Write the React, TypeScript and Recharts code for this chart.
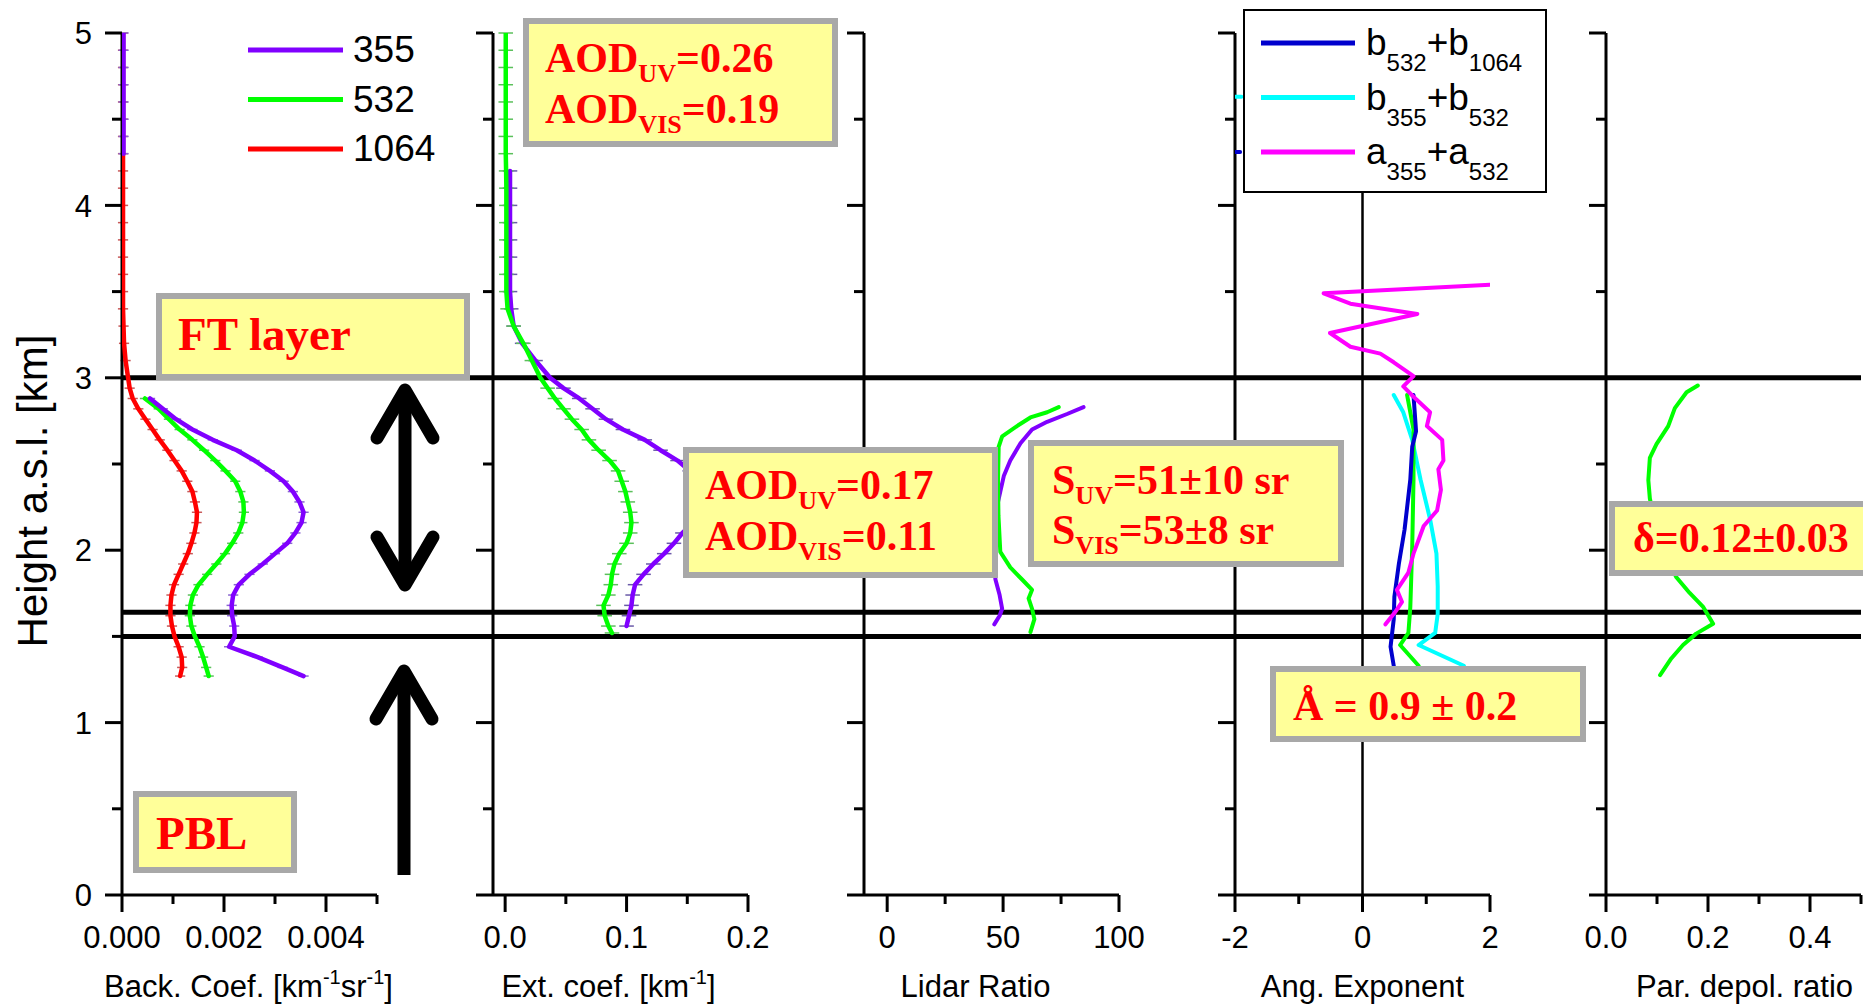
import React from "react";
import { ScatterChart, Scatter, XAxis, YAxis, ReferenceLine, ErrorBar } from "recharts";

// ---------- profile data, heights in km a.s.l. ----------

// backscatter coefficient [km-1 sr-1]
const bscHeights = [
  5.0, 4.9, 4.8, 4.7, 4.6, 4.5, 4.4, 4.3, 4.2, 4.1, 4.0, 3.9, 3.8, 3.7, 3.6, 3.5, 3.4, 3.3, 3.2, 3.1,
  3.0, 2.94, 2.88, 2.82, 2.76, 2.7, 2.64, 2.58, 2.52, 2.46, 2.4, 2.34, 2.28, 2.22, 2.16, 2.1, 2.04,
  1.98, 1.92, 1.86, 1.8, 1.74, 1.68, 1.62, 1.56, 1.5, 1.44, 1.38, 1.32, 1.27,
];
const bsc355 = [
  0.00003, 0.00003, 0.00003, 0.00003, 0.00003, 0.00003, 0.00003, 0.00003,
  null, null, null, null, null, null, null, null, null, null, null, null,
  null, null, 0.00055, 0.0008, 0.00106, 0.00138, 0.00178, 0.00225, 0.0026, 0.0029, 0.00317, 0.00335,
  0.00348, 0.00356, 0.00352, 0.0034, 0.00324,
  0.003, 0.00276, 0.0025, 0.00229, 0.00218, 0.00215, 0.00216, 0.0022, 0.00221, 0.0021, 0.00266, 0.00315, 0.00356,
];
const bsc532 = [
  null, null, null, null, null, null, null, null, null, null,
  null, null, null, null, null, null, null, null, null, null,
  null, null, 0.00045, 0.00072, 0.00092, 0.00113, 0.00138, 0.00161, 0.00183, 0.00203, 0.00222, 0.00232,
  0.00238, 0.00239, 0.00236, 0.00228, 0.00216,
  0.00202, 0.00185, 0.00167, 0.0015, 0.00139, 0.00134, 0.00133, 0.00136, 0.00143, 0.00152, 0.00159, 0.00165, 0.0017,
];
const bsc1064 = [
  0.00002, 0.00002, 0.00002, 0.00002, 0.00002, 0.00002, 0.00002, 0.00002, 0.00002, 0.00002,
  0.00002, 0.00002, 0.00002, 0.00002, 0.00002, 0.00002, 0.00002, 0.00003, 0.00004, 0.00007,
  0.00012, 0.00015, 0.00021, 0.00032, 0.00046, 0.0006, 0.00074, 0.00089, 0.00103, 0.00117, 0.00128, 0.00138,
  0.00143, 0.00147, 0.00146, 0.00142, 0.00136,
  0.00129, 0.0012, 0.00111, 0.00102, 0.00097, 0.00095, 0.00095, 0.00098, 0.00103, 0.00111, 0.00117, 0.00118, 0.00114,
];
const bscErr = 0.0001;

// extinction coefficient [km-1]
const extHeights = [
  5.0, 4.9, 4.8, 4.7, 4.6, 4.5, 4.4, 4.3, 4.2, 4.1, 4.0, 3.9, 3.8, 3.7, 3.6, 3.5, 3.4, 3.3, 3.2, 3.1,
  3.0, 2.94, 2.88, 2.82, 2.76, 2.7, 2.64, 2.58, 2.52, 2.46, 2.4, 2.34, 2.28, 2.22, 2.16, 2.1, 2.04,
  1.98, 1.92, 1.86, 1.8, 1.74, 1.68, 1.62, 1.56, 1.52,
];
const ext355 = [
  null, null, null, null, null, null, null, null,
  0.004, 0.004, 0.004, 0.004, 0.004, 0.004, 0.004, 0.004, 0.005, 0.007, 0.014, 0.025,
  0.037, 0.048, 0.061, 0.072, 0.083, 0.097, 0.115, 0.128, 0.142, 0.152, 0.16, 0.165, 0.167, 0.163, 0.155, 0.146, 0.139,
  0.131, 0.122, 0.114, 0.107, 0.105, 0.104, 0.102, 0.1, null,
];
const ext532 = [
  0.0005, 0.0005, 0.0005, 0.0005, 0.0005, 0.0005, 0.0005, 0.0005, 0.0008, 0.001,
  0.001, 0.001, 0.001, 0.001, 0.001, 0.001, 0.002, 0.007, 0.015, 0.022,
  0.029, 0.035, 0.041, 0.048, 0.055, 0.063, 0.069, 0.077, 0.086, 0.093, 0.096, 0.099, 0.101, 0.103, 0.104, 0.103, 0.1,
  0.094, 0.09, 0.088, 0.087, 0.085, 0.081, 0.082, 0.085, 0.088,
];
const extErr = 0.006;

// lidar ratio [sr]
const lr355Heights = [2.83, 2.79, 2.745, 2.7, 2.62, 2.52, 2.43, 2.34, 2.2, 2.0, 1.83, 1.74, 1.66, 1.62, 1.57];
const lr355 = [84.7, 77.6, 69, 62.5, 57.5, 53.1, 50.3, 48.8, 46.5, 45.5, 46.7, 48.5, 49.6, 48.5, 46.2];
const lr532Heights = [2.83, 2.8, 2.77, 2.72, 2.66, 2.6, 2.4, 2.2, 1.99, 1.9, 1.83, 1.77, 1.72, 1.66, 1.6, 1.525];
const lr532 = [74, 69, 61.8, 56, 49.6, 48.1, 47.8, 48, 48.8, 53.1, 58.2, 62.5, 61, 62.5, 63.5, 61.8];

// Angstrom exponents
const aeAlphaHeights = [
  3.54, 3.49, 3.43, 3.37, 3.26, 3.18, 3.14, 3.09, 3.01, 2.95, 2.89, 2.8, 2.72,
  2.64, 2.52, 2.47, 2.35, 2.23, 2.14, 1.98, 1.87, 1.77, 1.7, 1.64, 1.57,
];
const aeAlpha355_532 = [
  2.0, -0.61, -0.19, 0.86, -0.51, -0.19, 0.28, 0.49, 0.8, 0.64, 0.8, 1.06, 1.01,
  1.25, 1.27, 1.19, 1.23, 1.17, 0.96, 0.8, 0.72, 0.54, 0.62, 0.51, 0.36,
];
const aeB532Heights = [4.31, 4.31, null, 2.9, 2.69, 2.6, 2.41, 2.12, 1.92, 1.73, 1.6, 1.44, 1.33];
const aeBeta532_1064 = [-2.0, -1.92, null, 0.8, 0.84, 0.78, 0.75, 0.66, 0.57, 0.5, 0.49, 0.44, 0.49];
const aeB355Heights = [4.63, 4.63, null, 2.9, 2.8, 2.64, 2.41, 2.18, 1.98, 1.79, 1.63, 1.52, 1.45, 1.33];
const aeBeta355_532 = [-2.0, -1.9, null, 0.49, 0.64, 0.78, 0.91, 1.06, 1.16, 1.18, 1.18, 1.14, 0.88, 1.59];
const aeGreenHeights = [2.9, 2.7, 2.41, 2.02, 1.67, 1.52, 1.45, 1.33];
const aeGreen = [0.7, 0.8, 0.8, 0.78, 0.75, 0.72, 0.59, 0.88];

// particle depolarization ratio
const depHeights = [
  2.955, 2.916, 2.824, 2.72, 2.615, 2.536, 2.406, 2.3, 2.1, 1.95, 1.843, 1.752, 1.673, 1.573, 1.516, 1.45, 1.372, 1.275,
];
const depol532 = [
  0.18, 0.158, 0.135, 0.122, 0.099, 0.086, 0.083, 0.086, 0.1, 0.12, 0.138, 0.164, 0.19, 0.21, 0.177, 0.151, 0.128, 0.106,
];

// layer boundaries (FT base, PBL top band)
const layerLines = [3.0, 1.64, 1.5];
const heightTicks = [0, 0.5, 1, 1.5, 2, 2.5, 3, 3.5, 4, 4.5, 5];

// ---------- styling / layout ----------
const SANS = '"Liberation Sans", Arial, sans-serif';
const SERIF = '"Liberation Serif", "Times New Roman", serif';
const C355 = "#8000FF";
const C532 = "#00FF00";
const C1064 = "#FF0000";
const CBLUE = "#0000CD";
const CCYAN = "#00FFFF";
const CMAG = "#FF00FF";
const BOX_FILL = "#FFFF99";
const BOX_EDGE = "#A8A8A8";

const CHART_H = 1007;
const PLOT_TOP = 33;
const X_AXIS_H = 112;
const PLOT_W = 255;
const FIRST_LEFT = 122;
const PANEL_STEP = 371;
const GAP = PANEL_STEP - PLOT_W;
const Y_W = 40;
const AXIS = { stroke: "#000", strokeWidth: 3 };

type Series = {
  key: string;
  heights: (number | null)[];
  values: (number | null)[];
  color: string;
  width: number;
  err?: number;
  errColor?: string;
};
type Run = [string, boolean?];
type PanelDef = {
  id: string;
  domain: [number, number];
  ticks: number[];
  majors: number[];
  digits: number;
  title: Run[];
  titleDx: number;
  zeroLine?: boolean;
  series: Series[];
};

const panels: PanelDef[] = [
  {
    id: "bsc",
    domain: [0, 0.005],
    ticks: [0, 0.001, 0.002, 0.003, 0.004, 0.005],
    majors: [0, 0.002, 0.004],
    digits: 3,
    title: [["Back. Coef. [km"], ["-1", true], ["sr"], ["-1", true], ["]"]],
    titleDx: -1,
    series: [
      { key: "1064", heights: bscHeights, values: bsc1064, color: C1064, width: 4.5, err: bscErr, errColor: "#C85A5A" },
      { key: "532", heights: bscHeights, values: bsc532, color: C532, width: 4.5, err: bscErr, errColor: "#5CC05C" },
      { key: "355", heights: bscHeights, values: bsc355, color: C355, width: 4.5, err: bscErr, errColor: "#8A66D0" },
    ],
  },
  {
    id: "ext",
    domain: [-0.01, 0.2],
    ticks: [0, 0.05, 0.1, 0.15, 0.2],
    majors: [0, 0.1, 0.2],
    digits: 1,
    title: [["Ext. coef. [km"], ["-1", true], ["]"]],
    titleDx: -12,
    series: [
      { key: "355", heights: extHeights, values: ext355, color: C355, width: 4.5, err: extErr, errColor: "#6A5AA8" },
      { key: "532", heights: extHeights, values: ext532, color: C532, width: 4.5, err: extErr, errColor: "#5CC05C" },
    ],
  },
  {
    id: "lr",
    domain: [-10, 100],
    ticks: [0, 25, 50, 75, 100],
    majors: [0, 50, 100],
    digits: 0,
    title: [["Lidar Ratio"]],
    titleDx: -16,
    series: [
      { key: "355", heights: lr355Heights, values: lr355, color: C355, width: 4 },
      { key: "532", heights: lr532Heights, values: lr532, color: C532, width: 4 },
    ],
  },
  {
    id: "ae",
    domain: [-2, 2],
    ticks: [-2, -1, 0, 1, 2],
    majors: [-2, 0, 2],
    digits: 0,
    title: [["Ang. Exponent"]],
    titleDx: 0,
    zeroLine: true,
    series: [
      { key: "b355", heights: aeB355Heights, values: aeBeta355_532, color: CCYAN, width: 4 },
      { key: "green", heights: aeGreenHeights, values: aeGreen, color: C532, width: 4 },
      { key: "b532", heights: aeB532Heights, values: aeBeta532_1064, color: CBLUE, width: 4 },
      { key: "a355", heights: aeAlphaHeights, values: aeAlpha355_532, color: CMAG, width: 4 },
    ],
  },
  {
    id: "dep",
    domain: [0, 0.5],
    ticks: [0, 0.1, 0.2, 0.3, 0.4, 0.5],
    majors: [0, 0.2, 0.4],
    digits: 1,
    title: [["Par. depol. ratio"]],
    titleDx: 11,
    series: [{ key: "532", heights: depHeights, values: depol532, color: C532, width: 4 }],
  },
];

const bscLegend = [
  { label: "355", color: C355 },
  { label: "532", color: C532 },
  { label: "1064", color: C1064 },
];
const aeLegend: { runs: Run[]; color: string }[] = [
  { runs: [["b"], ["532", true], ["+b"], ["1064", true]], color: CBLUE },
  { runs: [["b"], ["355", true], ["+b"], ["532", true]], color: CCYAN },
  { runs: [["a"], ["355", true], ["+a"], ["532", true]], color: CMAG },
];

// ---------- helpers ----------
type Pt = { x: number; y: number; e: number };

function splitSegments(s: Series): Pt[][] {
  const segs: Pt[][] = [];
  let cur: Pt[] = [];
  s.values.forEach((v, i) => {
    const h = s.heights[i];
    if (v === null || h === null) {
      if (cur.length) segs.push(cur);
      cur = [];
    } else {
      cur.push({ x: v, y: h, e: s.err ?? 0 });
    }
  });
  if (cur.length) segs.push(cur);
  return segs;
}

// runs with a raised (sup) or lowered (sub) second style
function renderRuns(runs: Run[], size: number, small: number, shift: number) {
  let prev = false;
  return runs.map(([t, alt], i) => {
    const dy = (alt ? shift : 0) - (prev ? shift : 0);
    prev = !!alt;
    return (
      <tspan key={i} dy={dy} fontSize={alt ? small : size}>
        {t}
      </tspan>
    );
  });
}

const noDot = () => <g />;

const renderXTick = (panel: PanelDef) => (props: any) => {
  const { x, y, payload } = props;
  const v = payload.value as number;
  const major = panel.majors.includes(v);
  return (
    <g>
      <line x1={x} y1={y} x2={x} y2={y + (major ? 17 : 9)} stroke="#000" strokeWidth={3} />
      {major && (
        <text x={x} y={y + 53} textAnchor="middle" fontFamily={SANS} fontSize={31} fill="#000">
          {v.toFixed(panel.digits)}
        </text>
      )}
    </g>
  );
};

const renderYTick = (labels: boolean) => (props: any) => {
  const { x, y, payload } = props;
  const v = payload.value as number;
  const major = Number.isInteger(v);
  return (
    <g>
      <line x1={x} y1={y} x2={x - (major ? 17 : 10)} y2={y} stroke="#000" strokeWidth={3} />
      {labels && major && (
        <text x={x - 30} y={y} dy="0.36em" textAnchor="end" fontFamily={SANS} fontSize={31} fill="#000">
          {v}
        </text>
      )}
    </g>
  );
};

const renderXTitle = (panel: PanelDef) => (props: any) => {
  const vb = props.viewBox || { x: 0, y: CHART_H - X_AXIS_H, width: PLOT_W, height: X_AXIS_H };
  const cx = vb.x + vb.width / 2 + panel.titleDx;
  return (
    <text x={cx} y={vb.y + 102} textAnchor="middle" fontFamily={SANS} fontSize={31} fill="#000">
      {renderRuns(panel.title, 31, 20, -13)}
    </text>
  );
};

const renderYTitle = (props: any) => {
  const vb = props.viewBox || { x: 0, y: PLOT_TOP, width: FIRST_LEFT, height: CHART_H - PLOT_TOP - X_AXIS_H };
  const x = vb.x + 47;
  const y = vb.y + vb.height / 2 + 27;
  return (
    <text x={x} y={y} transform={`rotate(-90 ${x} ${y})`} textAnchor="middle" fontFamily={SANS} fontSize={42} fill="#000">
      Height a.s.l. [km]
    </text>
  );
};

function ProfilePanel({ panel, index }: { panel: PanelDef; index: number }) {
  const first = index === 0;
  const last = index === panels.length - 1;
  const yW = first ? FIRST_LEFT : Y_W;
  const right = last ? 0 : 30;
  const plotLeft = FIRST_LEFT + index * PANEL_STEP;
  const [x0, x1] = panel.domain;
  // layer lines run through the gap on the left of each panel
  const lineStart = first ? x0 : x0 - (GAP / PLOT_W) * (x1 - x0);

  return (
    <div style={{ position: "absolute", left: plotLeft - yW, top: 0 }}>
      <ScatterChart
        width={yW + PLOT_W + right}
        height={CHART_H}
        margin={{ top: PLOT_TOP, right, bottom: 0, left: 0 }}
      >
        <XAxis
          type="number"
          dataKey="x"
          domain={panel.domain}
          ticks={panel.ticks}
          interval={0}
          allowDataOverflow
          height={X_AXIS_H}
          axisLine={AXIS}
          tickLine={false}
          tickSize={0}
          tickMargin={0}
          tick={renderXTick(panel)}
          label={renderXTitle(panel)}
        />
        <YAxis
          type="number"
          dataKey="y"
          domain={[0, 5]}
          ticks={heightTicks}
          interval={0}
          allowDataOverflow
          width={yW}
          axisLine={AXIS}
          tickLine={false}
          tickSize={0}
          tickMargin={0}
          tick={renderYTick(first)}
          label={first ? renderYTitle : undefined}
        />
        {panel.zeroLine && <ReferenceLine x={0} stroke="#000" strokeWidth={2.5} />}
        {panel.series.flatMap((s) =>
          splitSegments(s).map((seg, j) => (
            <Scatter
              key={`${panel.id}-${s.key}-${j}`}
              data={seg}
              fill={s.color}
              line={{ stroke: s.color, strokeWidth: s.width, strokeLinejoin: "round", strokeLinecap: "round" }}
              shape={noDot}
              legendType="none"
              isAnimationActive={false}
            >
              {s.err ? (
                <ErrorBar dataKey="e" direction="x" width={0} stroke={s.errColor} strokeWidth={1.5} isAnimationActive={false} />
              ) : null}
            </Scatter>
          ))
        )}
        {layerLines.map((h) => (
          <ReferenceLine
            key={h}
            segment={[
              { x: lineStart, y: h },
              { x: x1, y: h },
            ]}
            stroke="#000"
            strokeWidth={5}
            ifOverflow="visible"
          />
        ))}
      </ScatterChart>
    </div>
  );
}

type NoteLine = { y: number; runs: Run[] };
function NoteBox({ x, y, w, h, tx, lines, size = 42 }: { x: number; y: number; w: number; h: number; tx: number; lines: NoteLine[]; size?: number }) {
  return (
    <g>
      <rect x={x} y={y} width={w} height={h} fill={BOX_FILL} stroke={BOX_EDGE} strokeWidth={6} />
      {lines.map((ln, i) => (
        <text key={i} x={tx} y={ln.y} fontFamily={SERIF} fontWeight="bold" fontSize={size} fill="#FF0000">
          {renderRuns(ln.runs, size, size * 0.62, size * 0.24)}
        </text>
      ))}
    </g>
  );
}

function Annotations() {
  return (
    <svg width={1863} height={1007} style={{ position: "absolute", left: 0, top: 0, pointerEvents: "none" }}>
      {/* wavelength legend */}
      {bscLegend.map((l, i) => (
        <g key={l.label}>
          <line x1={248} x2={343} y1={50 + i * 49.5} y2={50 + i * 49.5} stroke={l.color} strokeWidth={5} />
          <text x={353} y={62 + i * 49.5} fontFamily={SANS} fontSize={37} fill="#000">
            {l.label}
          </text>
        </g>
      ))}

      {/* Angstrom legend */}
      <rect x={1244} y={10} width={302} height={182} fill="#fff" stroke="#000" strokeWidth={2} />
      {aeLegend.map((l, i) => (
        <g key={i}>
          <line x1={1261} x2={1355} y1={43 + i * 54.5} y2={43 + i * 54.5} stroke={l.color} strokeWidth={5} />
          <text x={1366} y={55 + i * 54.5} fontFamily={SANS} fontSize={37} fill="#000">
            {renderRuns(l.runs, 37, 24, 16)}
          </text>
        </g>
      ))}

      {/* layer arrows */}
      <g stroke="#000" strokeWidth={13} fill="none" strokeLinecap="round" strokeLinejoin="round">
        <line x1={405} y1={392} x2={405} y2={583} />
        <polyline points="377,438 405,390 433,438" />
        <polyline points="377,537 405,585 433,537" />
        <polyline points="376,719 404,671 432,719" />
      </g>
      <line x1={404} y1={676} x2={404} y2={875} stroke="#000" strokeWidth={13} />

      <NoteBox x={159} y={296} w={308} h={81} tx={178} size={47} lines={[{ y: 350, runs: [["FT layer"]] }]} />
      <NoteBox x={136} y={794} w={158} h={76} tx={156} size={47} lines={[{ y: 849, runs: [["PBL"]] }]} />
      <NoteBox
        x={526}
        y={21}
        w={309}
        h={123}
        tx={545}
        lines={[
          { y: 72, runs: [["AOD"], ["UV", true], ["=0.26"]] },
          { y: 123, runs: [["AOD"], ["VIS", true], ["=0.19"]] },
        ]}
      />
      <NoteBox
        x={686}
        y={450}
        w={309}
        h={125}
        tx={705}
        lines={[
          { y: 499, runs: [["AOD"], ["UV", true], ["=0.17"]] },
          { y: 550, runs: [["AOD"], ["VIS", true], ["=0.11"]] },
        ]}
      />
      <NoteBox
        x={1031}
        y={443}
        w={310}
        h={121}
        tx={1052}
        lines={[
          { y: 494, runs: [["S"], ["UV", true], ["=51±10 sr"]] },
          { y: 544, runs: [["S"], ["VIS", true], ["=53±8 sr"]] },
        ]}
      />
      <NoteBox x={1273} y={669} w={310} h={70} tx={1293} lines={[{ y: 720, runs: [["Å = 0.9 ± 0.2"]] }]} />
      <NoteBox x={1612} y={504} w={260} h={69} tx={1633} size={42} lines={[{ y: 552, runs: [["δ=0.12±0.03"]] }]} />
    </svg>
  );
}

export default function App() {
  return (
    <div style={{ position: "relative", width: 1863, height: 1007, overflow: "hidden", background: "#fff" }}>
      <style>{`body{margin:0} .recharts-surface{overflow:visible}`}</style>
      {panels.map((p, i) => (
        <ProfilePanel key={p.id} panel={p} index={i} />
      ))}
      <Annotations />
    </div>
  );
}
